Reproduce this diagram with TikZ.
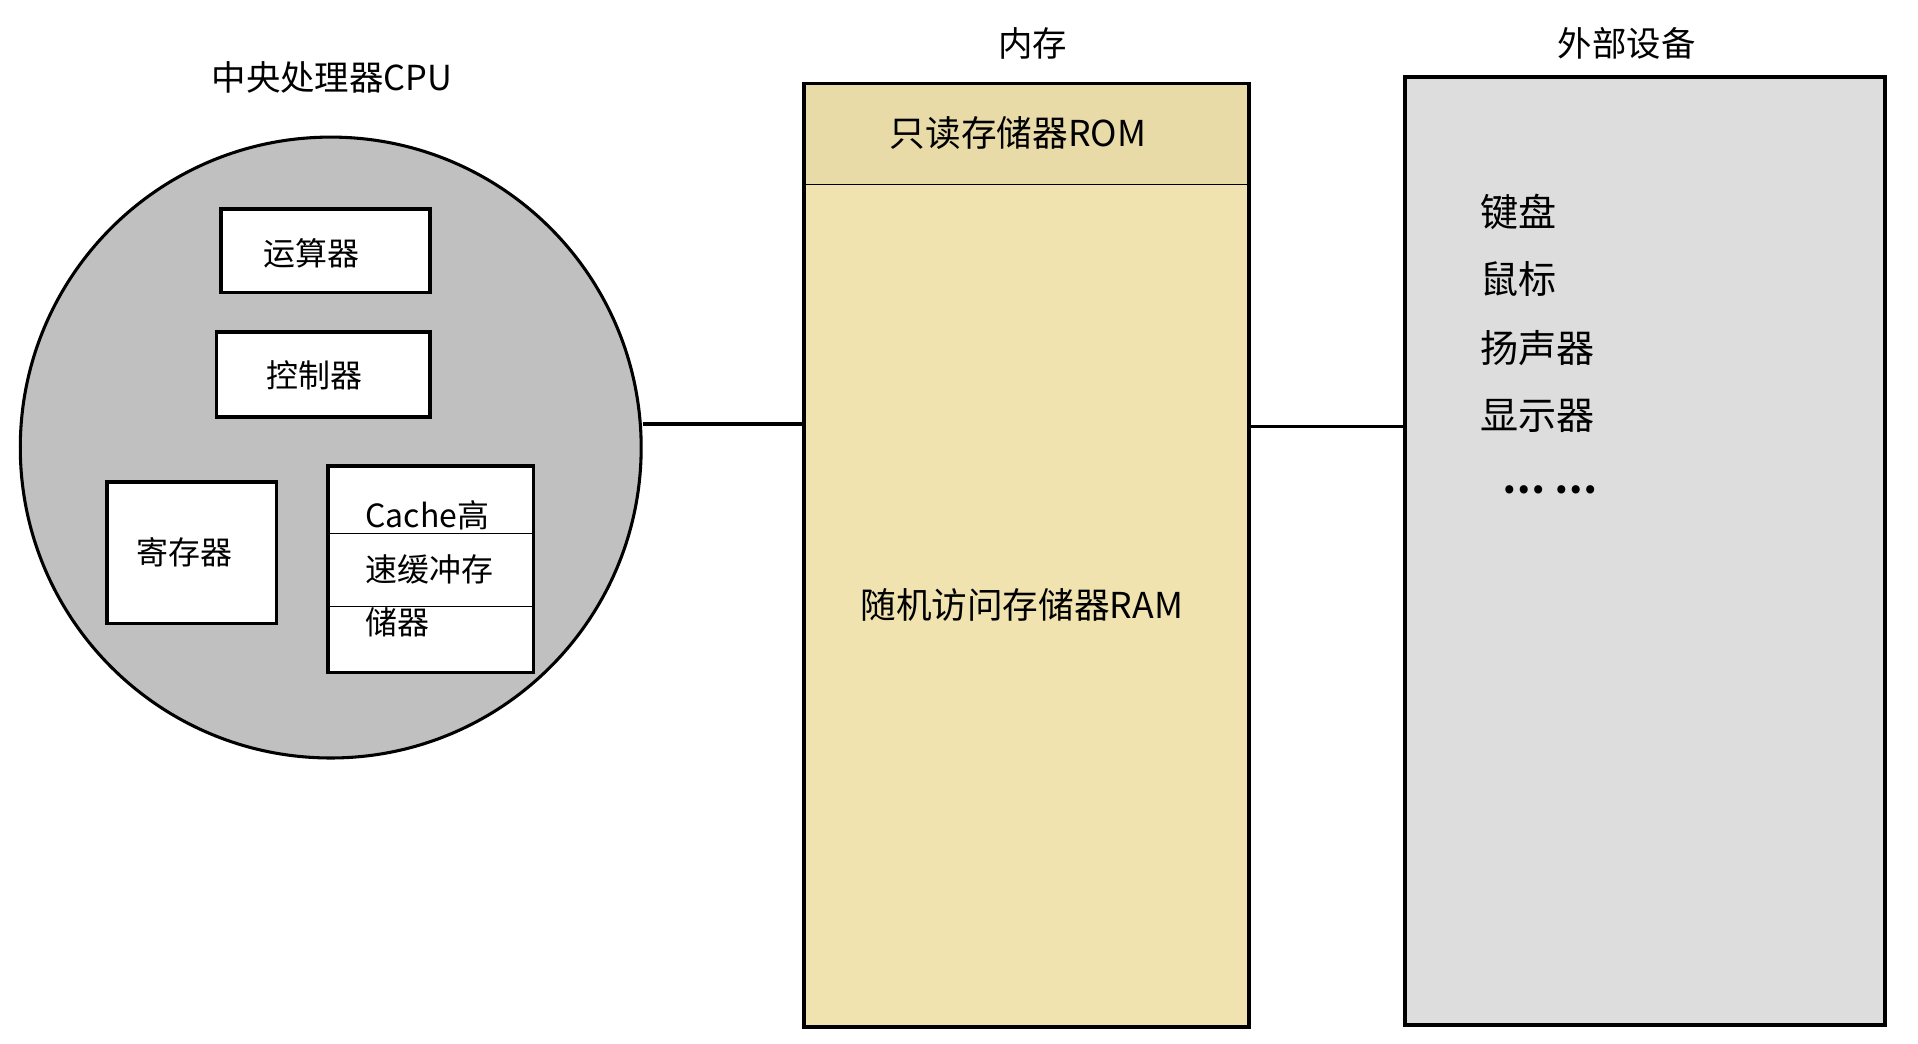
\documentclass[tikz,border=0pt]{standalone}
\usepackage{fontspec}
\setmainfont{Noto Sans CJK SC}
\definecolor{cpug}{RGB}{192,192,192}
\definecolor{memc}{RGB}{240,227,176}
\definecolor{romc}{RGB}{232,219,168}
\definecolor{devc}{RGB}{221,221,221}
\begin{document}
\begin{tikzpicture}[x=1pt,y=-1pt,
  bx/.style={draw,line width=3pt,fill=white},
  t/.style={inner sep=0pt,font=\fontsize{#1}{#1}\selectfont},
  t/.default=26]
\useasboundingbox (0,0) rectangle (1560,849);
\node[t=28] (cpuT) at (270,63) {中央处理器CPU};
\node[circle,draw,line width=2.5pt,fill=cpug,minimum size=505pt,inner sep=0pt] (cpu) at (269,364) {};
\draw[bx] (180,170) rectangle (350,238); \node[t] (ys) at (253,206) {运算器};
\draw[bx] (176,270) rectangle (350,339); \node[t] (kz) at (256,305) {控制器};
\draw[bx] (87,392) rectangle (225,507); \node[t] (jc) at (150,449) {寄存器};
\draw[bx] (267,379) rectangle (434,547);
\draw[line width=0.6pt] (268,434) -- (433,434) (268,493) -- (433,493);
\node[t,anchor=west] (c1) at (297,419) {Cache高};
\node[t,anchor=west] (c2) at (297,463) {速缓冲存};
\node[t,anchor=west] (c3) at (297,506) {储器};

\node[t=28] (memT) at (840,35) {内存};
\node[draw,line width=3pt,fill=memc,minimum width=362pt,minimum height=767pt,inner sep=0pt] (mem) at (835,452) {};
\fill[romc] (655.5,69.5) rectangle (1014.5,150);
\draw[line width=0.6pt] (655.5,150) -- (1014.5,150);
\node[t=29] (rom) at (828,108) {只读存储器ROM};
\node[t=29] (ram) at (831,492) {随机访问存储器RAM};

\node[t=28] (devT) at (1323,35) {外部设备};
\node[draw,line width=3pt,fill=devc,minimum width=390pt,minimum height=771pt,inner sep=0pt] (dev) at (1338,448) {};
\node[t=31,anchor=west] (d1) at (1204,172) {键盘};
\node[t=31,anchor=west] (d2) at (1204,227) {鼠标};
\node[t=31,anchor=west] (d3) at (1204,283) {扬声器};
\node[t=31,anchor=west] (d4) at (1204,338) {显示器};
\node[t=31,anchor=west,font=\fontsize{31}{31}\selectfont\bfseries] (d5) at (1222,398) {… …};

\draw[line width=3pt] (cpu.east |- 0,345) -- (mem.west |- 0,345);
\draw[line width=3pt] (mem.east |- 0,347) -- (dev.west |- 0,347);
\end{tikzpicture}
\end{document}
